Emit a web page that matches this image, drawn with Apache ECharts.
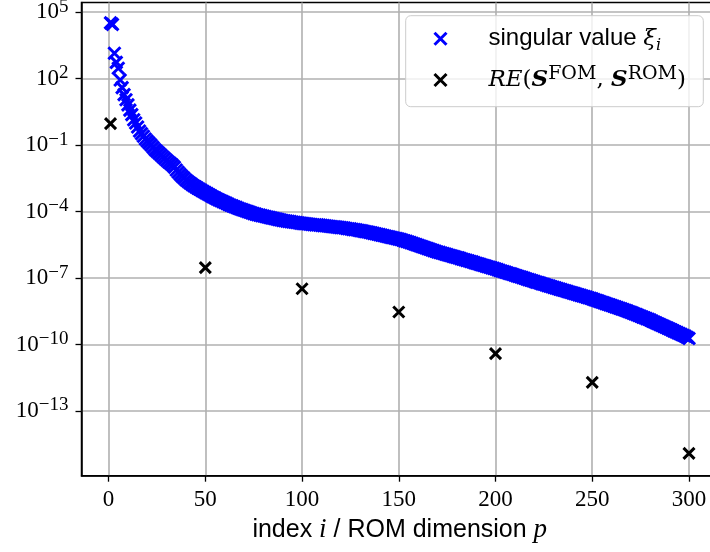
<!DOCTYPE html>
<html>
<head>
<meta charset="utf-8">
<script src="https://cdn.jsdelivr.net/npm/echarts@6/dist/echarts.min.js"></script>
<style>
html,body{margin:0;padding:0;background:#fff;}
#chart{width:710px;height:552px;}
</style>
</head>
<body>
<div id="chart"></div>
<script>
// log10 of singular values xi_i, for i = 1..300
const singularExp = [
  4.52, 4.45, 3.15, 2.74, 2.47, 1.94, 1.60, 1.28, 1.05, 0.82,
  0.58, 0.38, 0.15, 0.00, -0.18, -0.36, -0.48, -0.60, -0.72, -0.82,
  -0.91, -1.00, -1.10, -1.20, -1.28, -1.36, -1.44, -1.52, -1.60, -1.68,
  -1.76, -1.83, -1.90, -1.99, -2.12, -2.22, -2.32, -2.41, -2.49, -2.57,
  -2.64, -2.71, -2.77, -2.83, -2.88, -2.94, -2.99, -3.04, -3.09, -3.14,
  -3.19, -3.24, -3.29, -3.34, -3.38, -3.43, -3.47, -3.51, -3.55, -3.59,
  -3.63, -3.67, -3.71, -3.74, -3.78, -3.81, -3.85, -3.88, -3.91, -3.94,
  -3.97, -4.00, -4.03, -4.06, -4.09, -4.11, -4.14, -4.16, -4.18, -4.20,
  -4.22, -4.24, -4.26, -4.28, -4.30, -4.32, -4.34, -4.36, -4.38, -4.40,
  -4.41, -4.43, -4.44, -4.45, -4.47, -4.48, -4.49, -4.50, -4.52, -4.53,
  -4.54, -4.55, -4.56, -4.57, -4.58, -4.59, -4.60, -4.60, -4.61, -4.62,
  -4.63, -4.64, -4.65, -4.66, -4.67, -4.68, -4.69, -4.70, -4.71, -4.72,
  -4.73, -4.74, -4.76, -4.77, -4.78, -4.80, -4.81, -4.82, -4.84, -4.86,
  -4.87, -4.89, -4.91, -4.92, -4.94, -4.96, -4.98, -5.00, -5.02, -5.04,
  -5.06, -5.08, -5.10, -5.12, -5.14, -5.16, -5.18, -5.20, -5.22, -5.24,
  -5.26, -5.29, -5.32, -5.34, -5.37, -5.40, -5.43, -5.46, -5.49, -5.52,
  -5.55, -5.58, -5.61, -5.64, -5.67, -5.70, -5.73, -5.76, -5.79, -5.82,
  -5.84, -5.87, -5.89, -5.92, -5.94, -5.97, -5.99, -6.02, -6.04, -6.07,
  -6.09, -6.12, -6.15, -6.17, -6.20, -6.22, -6.25, -6.27, -6.30, -6.33,
  -6.35, -6.38, -6.41, -6.43, -6.46, -6.49, -6.51, -6.54, -6.56, -6.59,
  -6.62, -6.65, -6.68, -6.70, -6.73, -6.76, -6.79, -6.81, -6.84, -6.87,
  -6.90, -6.93, -6.95, -6.98, -7.01, -7.04, -7.07, -7.09, -7.12, -7.15,
  -7.18, -7.20, -7.23, -7.26, -7.28, -7.31, -7.34, -7.36, -7.39, -7.42,
  -7.44, -7.47, -7.50, -7.52, -7.55, -7.57, -7.60, -7.63, -7.65, -7.68,
  -7.70, -7.73, -7.76, -7.78, -7.81, -7.83, -7.86, -7.89, -7.91, -7.94,
  -7.97, -8.00, -8.03, -8.06, -8.09, -8.12, -8.15, -8.18, -8.21, -8.24,
  -8.27, -8.30, -8.33, -8.36, -8.39, -8.42, -8.45, -8.48, -8.52, -8.55,
  -8.58, -8.62, -8.65, -8.69, -8.72, -8.76, -8.79, -8.83, -8.86, -8.90,
  -8.94, -8.98, -9.02, -9.06, -9.10, -9.14, -9.18, -9.22, -9.26, -9.30,
  -9.34, -9.38, -9.42, -9.46, -9.50, -9.54, -9.58, -9.62, -9.67, -9.72
];
// ROM dimensions p and log10 of RE(S^FOM, S^ROM)
const errorDims = [1, 50, 100, 150, 200, 250, 300];
const errorExp = [-0.03, -6.53, -7.48, -8.53, -10.41, -11.71, -14.91];
// tick values
const xTicks = [0, 50, 100, 150, 200, 250, 300];
const yTickExp = [-13, -10, -7, -4, -1, 2, 5];

const singularData = singularExp.map((e, k) => [k + 1, e]);
const errorData = errorDims.map((p, k) => [p, errorExp[k]]);

const XPATH = 'path://M0,0L10,10M10,0L0,10';
const nameSing = 'singular value ξi';
const nameRE = 'RE(S^FOM, S^ROM)';
const serif = 'Liberation Serif';
const mserif = 'DejaVu Serif';
const sans = 'Liberation Sans';

const chart = echarts.init(document.getElementById('chart'), null, {renderer: 'canvas'});
chart.setOption({
  animation: false,
  backgroundColor: '#ffffff',
  grid: {
    left: 81.5, right: -8, top: 2.5, bottom: 76.3,
    show: true, borderColor: '#000', borderWidth: 1.5, backgroundColor: 'transparent',
    containLabel: false, outerBoundsMode: 'none'
  },
  graphic: [{
    type: 'rect', z: 3, silent: true,
    shape: {x: 405.7, y: 15.7, width: 297.6, height: 91, r: 5},
    style: {fill: 'rgba(255,255,255,0.8)', stroke: '#cccccc', lineWidth: 1}
  }],
  legend: {
    orient: 'vertical', left: 433, top: 26.7, padding: 0, itemGap: 11.3,
    itemWidth: 18, itemHeight: 12, z: 5,
    data: [
      {name: nameSing, itemStyle: {color: '#0000ff', borderColor: '#0000ff', borderWidth: 3}},
      {name: nameRE, itemStyle: {color: '#000000', borderColor: '#000000', borderWidth: 3}}
    ],
    formatter: function (n) {
      if (n === nameSing) return '{g| }{t|singular value }{m|ξ}{sub|i}';
      return '{g| }{m|RE}{r|(}{bs|S}{sup|FOM}{r|, }{bs|S}{sup|ROM}{r|)}';
    },
    textStyle: {
      color: '#000',
      rich: {
        g: {width: 34, lineHeight: 30, fontSize: 10},
        t: {fontFamily: sans, fontSize: 24, lineHeight: 30, color: '#000'},
        m: {fontFamily: mserif, fontStyle: 'italic', fontSize: 23, lineHeight: 30, color: '#000'},
        r: {fontFamily: mserif, fontSize: 23, lineHeight: 30, color: '#000'},
        bs: {fontFamily: mserif, fontStyle: 'italic', fontWeight: 'bold', fontSize: 23, lineHeight: 30, color: '#000'},
        sub: {fontFamily: mserif, fontStyle: 'italic', fontSize: 16, lineHeight: 22, verticalAlign: 'bottom', color: '#000'},
        sup: {fontFamily: mserif, fontSize: 19, lineHeight: 15, verticalAlign: 'top', color: '#000'}
      }
    }
  },
  xAxis: {
    type: 'value', min: -14, max: 315,
    axisLine: {show: true, onZero: false, lineStyle: {color: '#000', width: 1.5}},
    axisTick: {show: true, length: 6, customValues: xTicks, lineStyle: {color: '#000', width: 1.3}},
    splitLine: {show: true, lineStyle: {color: '#b0b0b0', width: 1.6}},
    axisLabel: {
      customValues: xTicks, margin: 12, color: '#000',
      fontFamily: serif, fontSize: 23, lineHeight: 24
    },
    name: '{t|index }{m|i}{t| / ROM dimension }{m|p}',
    nameLocation: 'middle', nameGap: 39,
    nameTextStyle: {
      rich: {
        t: {fontFamily: sans, fontSize: 25, lineHeight: 30, color: '#000'},
        m: {fontFamily: serif, fontStyle: 'italic', fontSize: 27, lineHeight: 30, color: '#000'}
      }
    }
  },
  yAxis: {
    type: 'value', min: -15.92, max: 5.44,
    axisLine: {show: true, onZero: false, lineStyle: {color: '#000', width: 1.5}},
    axisTick: {show: true, length: 6, customValues: yTickExp, lineStyle: {color: '#000', width: 1.3}},
    splitLine: {show: true, lineStyle: {color: '#b0b0b0', width: 1.6}},
    axisLabel: {
      customValues: yTickExp, margin: 13,
      formatter: function (v) {
        const n = Math.round(v);
        const s = n < 0 ? '\u2212' + (-n) : '' + n;
        return '{b|10}{s|' + s + '}';
      },
      rich: {
        b: {fontFamily: serif, fontSize: 23, lineHeight: 30, color: '#000'},
        s: {fontFamily: serif, fontSize: 19, lineHeight: 17, verticalAlign: 'top', color: '#000'}
      }
    }
  },
  series: [
    {
      name: nameSing, type: 'scatter', data: singularData,
      symbol: XPATH, symbolSize: 12, symbolKeepAspect: true,
      itemStyle: {color: '#0000ff', borderColor: '#0000ff', borderWidth: 3, opacity: 1},
      emphasis: {disabled: true}, z: 2
    },
    {
      name: nameRE, type: 'scatter', data: errorData,
      symbol: XPATH, symbolSize: 11, symbolKeepAspect: true,
      itemStyle: {color: '#000000', borderColor: '#000000', borderWidth: 3, opacity: 1},
      emphasis: {disabled: true}, z: 2
    }
  ]
});
</script>
</body>
</html>
